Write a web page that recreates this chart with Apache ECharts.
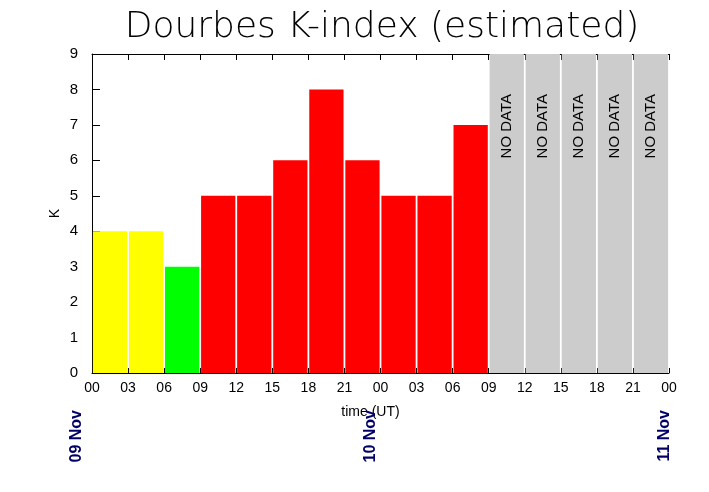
<!DOCTYPE html>
<html><head><meta charset="utf-8">
<script src="https://cdn.jsdelivr.net/npm/echarts@6/dist/echarts.min.js"></script>
<style>html,body{margin:0;padding:0;background:#fff}#c{width:709px;height:492px}</style>
</head><body><div id="c"></div>
<script>
// 3-hour slots starting 09 Nov 00 UT
const slotStarts = ['00','03','06','09','12','15','18','21','00','03','06','09','12','15','18','21'];
const kValues = [4,4,3,5,5,6,8,6,5,5,7,null,null,null,null,null];
const noDataValues = [null,null,null,null,null,null,null,null,null,null,null,9,9,9,9,9];
const tickLabels = ['00','03','06','09','12','15','18','21','00','03','06','09','12','15','18','21','00'];
const dateLabels = ['09 Nov','10 Nov','11 Nov'];
const yTicks = [0,1,2,3,4,5,6,7,8,9];

function kColor(v){ return v <= 3 ? '#00ff00' : (v === 4 ? '#ffff00' : '#ff0000'); }

const font = 'Liberation Sans, Arial, sans-serif';
const chart = echarts.init(document.getElementById('c'), null, {renderer:'canvas'});
chart.setOption({
  backgroundColor:'#ffffff',
  animation:false,
  title:{text:'Dourbes K-index (estimated)', left:377, textAlign:'center', top:5,
    textStyle:{fontFamily:'DejaVu Sans', fontWeight:200, fontSize:36, color:'#000'}},
  grid:[
    {left:92, right:40, top:54, bottom:119},
    {left:77, right:44, top:54, bottom:119}
  ],
  xAxis:[
    {type:'category', gridIndex:0, data:slotStarts, position:'bottom',
     axisLine:{show:true, lineStyle:{color:'#000'}}, axisTick:{show:false}, axisLabel:{show:false}},
    {type:'value', gridIndex:0, min:0, max:48, interval:3, position:'bottom',
     axisLine:{show:false}, splitLine:{show:false},
     axisTick:{show:true, inside:true, length:5, lineStyle:{color:'#000'}},
     axisLabel:{margin:8, fontFamily:font, fontSize:14, color:'#000',
       formatter:v=>tickLabels[Math.round(v/3)]},
     name:'time (UT)', nameLocation:'middle', nameGap:32, nameMoveOverlap:false,
     nameTextStyle:{fontFamily:font, fontSize:14, color:'#000', padding:[0,20,0,0]}},
    {type:'value', gridIndex:0, min:0, max:48, interval:3, position:'top',
     axisLine:{show:true, lineStyle:{color:'#000'}}, splitLine:{show:false},
     axisTick:{show:true, inside:true, length:6, lineStyle:{color:'#000'}},
     axisLabel:{show:false}},
    {type:'value', gridIndex:1, min:0, max:48, interval:24, position:'bottom',
     axisLine:{show:false}, axisTick:{show:false}, splitLine:{show:false},
     axisLabel:{rotate:90, margin:37, fontFamily:font, fontWeight:'bold', fontSize:16, color:'#000066',
       formatter:v=>dateLabels[Math.round(v/24)]}}
  ],
  yAxis:[
    {type:'value', gridIndex:0, min:0, max:9, interval:1,
     axisLine:{show:true, lineStyle:{color:'#000'}}, splitLine:{show:false},
     axisTick:{show:true, inside:true, length:8, lineStyle:{color:'#000'}},
     axisLabel:{margin:14, fontFamily:font, fontSize:15, color:'#000',
       formatter:v=>String(yTicks[v])},
     name:'K', nameLocation:'middle', nameGap:30, nameMoveOverlap:false,
     nameTextStyle:{fontFamily:font, fontSize:14, color:'#000'}},
    {type:'value', gridIndex:1, min:0, max:9, show:false}
  ],
  series:[
    {type:'bar', name:'K', xAxisIndex:0, yAxisIndex:0, data:kValues,
     barCategoryGap:'5%', barGap:'-100%',
     itemStyle:{color:p=>kColor(p.value)}},
    {type:'bar', name:'NO DATA', xAxisIndex:0, yAxisIndex:0, data:noDataValues,
     barCategoryGap:'5%', barGap:'-100%',
     itemStyle:{color:'#cccccc'},
     label:{show:true, position:'insideTop', rotate:90, align:'right', verticalAlign:'middle',
       distance:40, formatter:'NO DATA', fontFamily:font, fontSize:15, color:'#000'}}
  ]
});
</script></body></html>
